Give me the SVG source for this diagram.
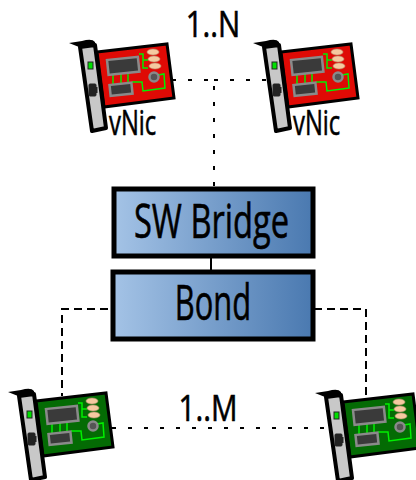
<svg xmlns="http://www.w3.org/2000/svg" xmlns:xlink="http://www.w3.org/1999/xlink" width="416" height="480" viewBox="0 0 416 480">
<style>
text{font-family:"Open Sans","Liberation Sans",sans-serif;fill:#000;stroke:#000;stroke-width:.6}
.box{stroke:#000;stroke-width:5}
.conn{fill:none;stroke:#000;stroke-width:2}
.dot{stroke-dasharray:4 12}
.dash{stroke-dasharray:8 5}
.tr{fill:none;stroke:#00f000;stroke-width:1.500}
.chip{fill:#3a3a3a;stroke:#8a8a8a;stroke-width:2.500}
.cap{fill:#f5c9a0;stroke:#b89070;stroke-width:.6}
</style>
<defs>
<linearGradient id="g"><stop offset="0" stop-color="#a4c3e6"/><stop offset="1" stop-color="#4a79b0"/></linearGradient>
<g id="parts">
<path class="tr" d="M139 54H143V68H148M143 60H148M113 72V84M121 71V83M128 71V82M132 82H142L143 91L165 88L164 74L158 75"/>
<rect class="chip" width="31" height="15" transform="translate(107 60) rotate(-6)"/>
<rect class="chip" width="22" height="11" transform="translate(109.500 85) rotate(-6)"/>
<ellipse class="cap" cx="153" cy="52" rx="6" ry="3"/>
<ellipse class="cap" cx="154" cy="59" rx="6" ry="3"/>
<ellipse class="cap" cx="155" cy="66" rx="6" ry="3"/>
<circle cx="154" cy="77" r="4.500" fill="#555" stroke="#8a8a8a" stroke-width="2.500"/>
<path d="M69 43L82 41Q92 38 95 42L96 50L81 51L79 47Z" fill="#000"/>
<path d="M80 47L95 45L106 128L92 131Z" fill="#c8c8c8" stroke="#000" stroke-width="4" stroke-linejoin="round"/>
<rect x="88" y="62" width="5" height="7" fill="#00e000" stroke="#222" stroke-width="1"/>
<rect x="89" y="84" width="7" height="12" fill="#222" stroke="#222" rx="1"/>
<rect x="95" y="87" width="2.500" height="6" fill="#222"/>
</g>
<g id="red"><path d="M97 52L167 44L174 98L104 107Z" fill="#df0a05" stroke="#000" stroke-width="3"/><use xlink:href="#parts"/></g>
<g id="green"><path d="M97 52L167 44L174 98L104 107Z" fill="#046b04" stroke="#000" stroke-width="3"/><use xlink:href="#parts"/></g>
</defs>
<g id="connectors">
<path class="conn dot" d="M172 80H214V186"/>
<path class="conn dot" d="M214 80H271"/>
<path class="conn" d="M211 258V271"/>
<path class="conn dash" d="M108 309H62V396"/>
<path class="conn dash" d="M314 309H366V396"/>
<path class="conn dot" d="M112 428H330"/>
</g>
<g id="nic-top-left"><use xlink:href="#red"/><text transform="translate(109 135) scale(.68 1)" font-size="35">vNic</text></g>
<g id="nic-top-right"><use xlink:href="#red" x="184"/><text transform="translate(293 135) scale(.68 1)" font-size="35">vNic</text></g>
<g id="nic-bottom-left"><use xlink:href="#green" x="-61" y="349"/></g>
<g id="nic-bottom-right"><use xlink:href="#green" x="246" y="350"/></g>
<g id="sw-bridge"><rect class="box" x="114" y="189" width="199" height="67" fill="url(#g)"/><text transform="translate(211.500 238) scale(.68 1)" font-size="48" text-anchor="middle">SW Bridge</text></g>
<g id="bond"><rect class="box" x="113" y="272" width="200" height="67" fill="url(#g)"/><text transform="translate(213 320) scale(.63 1)" font-size="49" text-anchor="middle">Bond</text></g>
<g id="label-n"><text transform="translate(213 37) scale(.82 1)" font-size="36" text-anchor="middle">1..N</text></g>
<g id="label-m"><text transform="translate(208 421) scale(.82 1)" font-size="36" text-anchor="middle">1..M</text></g>
</svg>
